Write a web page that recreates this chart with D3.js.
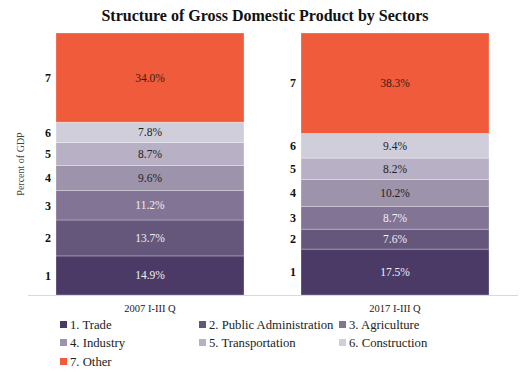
<!DOCTYPE html>
<html>
<head>
<meta charset="utf-8">
<script src="https://cdn.jsdelivr.net/npm/d3@7/dist/d3.min.js"></script>
<style>
  html, body { margin: 0; padding: 0; background: #fff; }
  svg { display: block; }
  text { font-family: "Liberation Serif", "DejaVu Serif", serif; }
</style>
</head>
<body>
<svg id="chart" width="526" height="374"></svg>
<script>
// Periods on the x axis
const periods = ["2007 I-III Q", "2017 I-III Q"];
// Sector codes and names (stack order, bottom to top)
const sectorCodes = ["1", "2", "3", "4", "5", "6", "7"];
const sectorNames = ["1. Trade", "2. Public Administration", "3. Agriculture",
                     "4. Industry", "5. Transportation", "6. Construction", "7. Other"];
// Share of GDP, percent
const share2007 = [14.9, 13.7, 11.2, 9.6, 8.7, 7.8, 34.0];
const share2017 = [17.5, 7.6, 8.7, 10.2, 8.2, 9.4, 38.3];
const sectorColors = ["#4b3a66", "#65577c", "#817494", "#9d93ab", "#b8b1c5", "#d1cedb", "#f05b3b"];
const labelColors = ["#f0eef4", "#f0eef4", "#f0eef4", "#222222", "#222222", "#222222", "#3a1c14"];

const rows = periods.map((p, i) => {
  const vals = i === 0 ? share2007 : share2017;
  const r = { period: p };
  sectorCodes.forEach((c, j) => r[c] = vals[j]);
  return r;
});

const svg = d3.select("#chart");
const margin = { top: 33, right: 8, bottom: 79, left: 28 };
const W = 526, H = 374;
const innerW = W - margin.left - margin.right;
const innerH = H - margin.top - margin.bottom;
const g = svg.append("g").attr("transform", `translate(${margin.left},${margin.top})`);

const stack = d3.stack().keys(sectorCodes);
const series = stack(rows);
const total = d3.max(rows, r => d3.sum(sectorCodes, c => r[c]));

const x = d3.scaleBand().domain(periods).range([28, 461]).paddingInner(0.2327).paddingOuter(0);
const y = d3.scaleLinear().domain([0, total]).range([innerH, 0]);
const color = d3.scaleOrdinal().domain(sectorCodes).range(sectorColors);

// Title
svg.append("text")
  .attr("x", 265).attr("y", 21)
  .attr("text-anchor", "middle")
  .attr("font-size", 16).attr("font-weight", "bold").attr("fill", "#111")
  .text("Structure of Gross Domestic Product by Sectors");

// Stacked segments
const layer = g.selectAll("g.layer").data(series).join("g").attr("class", "layer")
  .attr("fill", d => color(d.key));

layer.selectAll("rect").data(d => d.map(v => Object.assign(v, { key: d.key })))
  .join("rect")
  .attr("x", d => x(d.data.period))
  .attr("width", x.bandwidth())
  .attr("y", d => y(d[1]))
  .attr("height", d => y(d[0]) - y(d[1]))
  .attr("stroke", "#ffffff").attr("stroke-opacity", 0.35).attr("stroke-width", 0.8);

// Values inside segments
layer.selectAll("text.val").data(d => d)
  .join("text").attr("class", "val")
  .attr("x", d => x(d.data.period) + x.bandwidth() / 2)
  .attr("y", d => (y(d[0]) + y(d[1])) / 2)
  .attr("dy", "0.35em")
  .attr("text-anchor", "middle")
  .attr("font-size", 11.5)
  .attr("fill", d => labelColors[sectorCodes.indexOf(d.key)])
  .text(d => (d[1] - d[0]).toFixed(1) + "%");

// Sector codes to the left of each bar
layer.selectAll("text.code").data(d => d)
  .join("text").attr("class", "code")
  .attr("x", d => x(d.data.period) - 5)
  .attr("y", d => (y(d[0]) + y(d[1])) / 2)
  .attr("dy", "0.35em")
  .attr("text-anchor", "end")
  .attr("font-size", 12).attr("font-weight", "bold").attr("fill", "#111")
  .text(d => d.key);

// X axis: labels from the band scale, baseline across the full plot width
const xAxis = g.append("g").attr("transform", `translate(0,${innerH})`)
  .call(d3.axisBottom(x).tickSize(0).tickPadding(10));
xAxis.select(".domain").remove();
xAxis.selectAll("text").attr("font-size", 10.5).attr("fill", "#222")
  .attr("font-family", "Liberation Serif, serif");
g.append("line")
  .attr("x1", 0).attr("x2", innerW)
  .attr("y1", innerH + 0.5).attr("y2", innerH + 0.5)
  .attr("stroke", "#d9d9d9").attr("stroke-width", 1);

// Y axis title
svg.append("text")
  .attr("transform", `translate(24,${margin.top + innerH / 2}) rotate(-90)`)
  .attr("text-anchor", "middle")
  .attr("font-size", 10).attr("fill", "#444")
  .text("Percent of GDP");

// Legend
const legendCols = [60, 199, 339];
const legendRows = [329, 347, 366];
const legend = svg.append("g");
sectorNames.forEach((name, i) => {
  const lx = legendCols[i % 3], ly = legendRows[Math.floor(i / 3)];
  legend.append("rect").attr("x", lx).attr("y", ly - 8).attr("width", 7).attr("height", 7)
    .attr("fill", sectorColors[i]);
  legend.append("text").attr("x", lx + 10).attr("y", ly)
    .attr("font-size", 12.7).attr("fill", "#222").text(name);
});
</script>
</body>
</html>
